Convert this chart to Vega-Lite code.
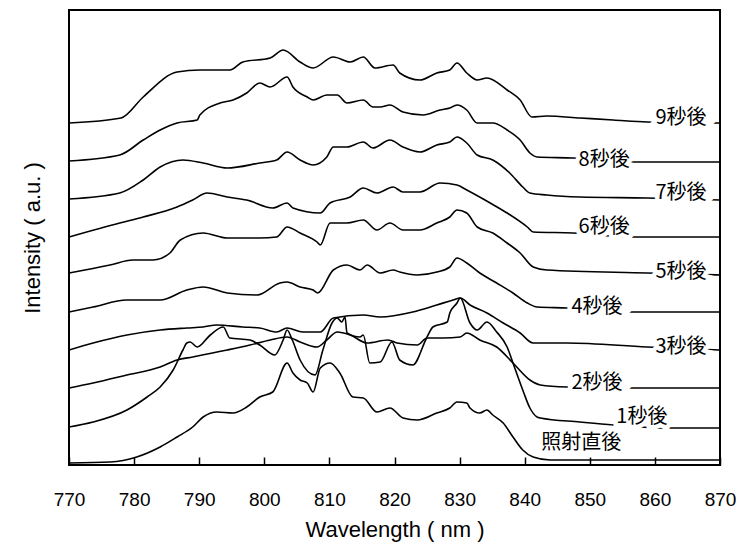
{
  "$schema": "https://vega.github.io/schema/vega-lite/v6.json",
  "width": 651,
  "height": 455,
  "autosize": {"type": "none"},
  "padding": {"left": 69, "top": 10, "right": 16, "bottom": 82},
  "background": "white",
  "datasets": {
    "spectra": [
      {"s":"9","wl":770,"v":342},{"s":"9","wl":778,"v":347},{"s":"9","wl":781.4,"v":368},{"s":"9","wl":786.6,"v":393},{"s":"9","wl":790.1,"v":395},{"s":"9","wl":794.7,"v":395},{"s":"9","wl":796.7,"v":403},{"s":"9","wl":800.9,"v":407},{"s":"9","wl":802.9,"v":415},{"s":"9","wl":805.5,"v":403},{"s":"9","wl":807.5,"v":397},{"s":"9","wl":810.6,"v":408},{"s":"9","wl":813.2,"v":403},{"s":"9","wl":815.2,"v":408},{"s":"9","wl":817,"v":397},{"s":"9","wl":819.8,"v":400},{"s":"9","wl":820.8,"v":392},{"s":"9","wl":823.9,"v":385},{"s":"9","wl":826.5,"v":392},{"s":"9","wl":828.5,"v":395},{"s":"9","wl":829.6,"v":402},{"s":"9","wl":831.1,"v":392},{"s":"9","wl":832.7,"v":385},{"s":"9","wl":834.2,"v":387},{"s":"9","wl":837.3,"v":375},{"s":"9","wl":839.3,"v":365},{"s":"9","wl":841.1,"v":348},{"s":"9","wl":843.4,"v":349},{"s":"9","wl":848.5,"v":347},{"s":"9","wl":853.6,"v":345},{"s":"9","wl":858.8,"v":343},{"s":"9","wl":870,"v":342},

      {"s":"8","wl":770,"v":304},{"s":"8","wl":777.8,"v":310},{"s":"8","wl":781.4,"v":325},{"s":"8","wl":784,"v":335},{"s":"8","wl":786.6,"v":342},{"s":"8","wl":789.7,"v":345},{"s":"8","wl":790.1,"v":350},{"s":"8","wl":793.2,"v":362},{"s":"8","wl":795.2,"v":365},{"s":"8","wl":797.3,"v":372},{"s":"8","wl":799.3,"v":382},{"s":"8","wl":800.9,"v":378},{"s":"8","wl":803.5,"v":388},{"s":"8","wl":804.4,"v":378},{"s":"8","wl":806.6,"v":368},{"s":"8","wl":807.5,"v":365},{"s":"8","wl":809.6,"v":370},{"s":"8","wl":811.2,"v":370},{"s":"8","wl":812.7,"v":362},{"s":"8","wl":815.2,"v":365},{"s":"8","wl":816.7,"v":358},{"s":"8","wl":817.8,"v":358},{"s":"8","wl":819.3,"v":360},{"s":"8","wl":821.3,"v":353},{"s":"8","wl":824.4,"v":350},{"s":"8","wl":827,"v":355},{"s":"8","wl":828.5,"v":357},{"s":"8","wl":829.6,"v":360},{"s":"8","wl":831.1,"v":355},{"s":"8","wl":832.7,"v":342},{"s":"8","wl":835.1,"v":342},{"s":"8","wl":837.3,"v":335},{"s":"8","wl":839.3,"v":325},{"s":"8","wl":840.8,"v":312},{"s":"8","wl":841.9,"v":308},{"s":"8","wl":847.4,"v":307},{"s":"8","wl":856.6,"v":303},{"s":"8","wl":870,"v":303},

      {"s":"7","wl":770,"v":266},{"s":"7","wl":777.8,"v":272},{"s":"7","wl":781.4,"v":285},{"s":"7","wl":784,"v":298},{"s":"7","wl":787.5,"v":305},{"s":"7","wl":790.6,"v":302},{"s":"7","wl":794.3,"v":297},{"s":"7","wl":799.3,"v":302},{"s":"7","wl":801.9,"v":305},{"s":"7","wl":803.5,"v":313},{"s":"7","wl":805.5,"v":305},{"s":"7","wl":807.5,"v":300},{"s":"7","wl":809.6,"v":308},{"s":"7","wl":810.6,"v":318},{"s":"7","wl":812.7,"v":318},{"s":"7","wl":815.2,"v":323},{"s":"7","wl":816.7,"v":317},{"s":"7","wl":819.3,"v":325},{"s":"7","wl":821.3,"v":318},{"s":"7","wl":823.9,"v":313},{"s":"7","wl":826.5,"v":320},{"s":"7","wl":828.5,"v":323},{"s":"7","wl":829.6,"v":328},{"s":"7","wl":831.1,"v":322},{"s":"7","wl":832.7,"v":310},{"s":"7","wl":835.1,"v":305},{"s":"7","wl":837.7,"v":292},{"s":"7","wl":839.7,"v":278},{"s":"7","wl":840.8,"v":272},{"s":"7","wl":843.4,"v":270},{"s":"7","wl":848.5,"v":268},{"s":"7","wl":858.8,"v":267},{"s":"7","wl":870,"v":265},

      {"s":"6","wl":770,"v":228},{"s":"6","wl":777.8,"v":242},{"s":"6","wl":781.4,"v":248},{"s":"6","wl":786.6,"v":258},{"s":"6","wl":789,"v":265},{"s":"6","wl":791.2,"v":272},{"s":"6","wl":794.3,"v":268},{"s":"6","wl":797.3,"v":265},{"s":"6","wl":801.3,"v":257},{"s":"6","wl":803.5,"v":262},{"s":"6","wl":804.4,"v":257},{"s":"6","wl":808.6,"v":252},{"s":"6","wl":810.1,"v":262},{"s":"6","wl":813.2,"v":268},{"s":"6","wl":815.2,"v":277},{"s":"6","wl":817.3,"v":272},{"s":"6","wl":819.8,"v":278},{"s":"6","wl":821.3,"v":273},{"s":"6","wl":823.9,"v":273},{"s":"6","wl":827,"v":282},{"s":"6","wl":829.6,"v":280},{"s":"6","wl":831.1,"v":275},{"s":"6","wl":834.7,"v":262},{"s":"6","wl":837.3,"v":252},{"s":"6","wl":840.4,"v":238},{"s":"6","wl":841.3,"v":233},{"s":"6","wl":847.4,"v":232},{"s":"6","wl":856.6,"v":228},{"s":"6","wl":870,"v":228},

      {"s":"5","wl":770,"v":192},{"s":"5","wl":776.3,"v":200},{"s":"5","wl":779.8,"v":205},{"s":"5","wl":782.9,"v":205},{"s":"5","wl":785.5,"v":212},{"s":"5","wl":787.1,"v":225},{"s":"5","wl":790.6,"v":232},{"s":"5","wl":794.3,"v":227},{"s":"5","wl":799.3,"v":227},{"s":"5","wl":801.9,"v":228},{"s":"5","wl":803.5,"v":238},{"s":"5","wl":805.5,"v":232},{"s":"5","wl":808.1,"v":223},{"s":"5","wl":808.6,"v":220},{"s":"5","wl":810.1,"v":242},{"s":"5","wl":812.7,"v":242},{"s":"5","wl":815.2,"v":245},{"s":"5","wl":817.3,"v":235},{"s":"5","wl":819.3,"v":242},{"s":"5","wl":821.3,"v":235},{"s":"5","wl":823.9,"v":235},{"s":"5","wl":826.5,"v":242},{"s":"5","wl":828.5,"v":248},{"s":"5","wl":829.6,"v":255},{"s":"5","wl":831.1,"v":252},{"s":"5","wl":832.7,"v":238},{"s":"5","wl":835.1,"v":232},{"s":"5","wl":837.3,"v":222},{"s":"5","wl":839.3,"v":212},{"s":"5","wl":841.3,"v":198},{"s":"5","wl":843.4,"v":195},{"s":"5","wl":858.8,"v":192},{"s":"5","wl":870,"v":190},

      {"s":"4","wl":770,"v":153},{"s":"4","wl":773.7,"v":158},{"s":"4","wl":778.9,"v":165},{"s":"4","wl":784,"v":165},{"s":"4","wl":788.1,"v":175},{"s":"4","wl":790.6,"v":178},{"s":"4","wl":794.3,"v":172},{"s":"4","wl":798.9,"v":170},{"s":"4","wl":802.4,"v":182},{"s":"4","wl":803.5,"v":183},{"s":"4","wl":805.5,"v":178},{"s":"4","wl":807.5,"v":175},{"s":"4","wl":808.2,"v":172},{"s":"4","wl":810.6,"v":195},{"s":"4","wl":812.7,"v":200},{"s":"4","wl":814.7,"v":195},{"s":"4","wl":815.8,"v":200},{"s":"4","wl":817.8,"v":192},{"s":"4","wl":819.8,"v":195},{"s":"4","wl":820.8,"v":193},{"s":"4","wl":823.5,"v":190},{"s":"4","wl":826.5,"v":193},{"s":"4","wl":828.5,"v":198},{"s":"4","wl":829.6,"v":207},{"s":"4","wl":831.1,"v":202},{"s":"4","wl":833.1,"v":192},{"s":"4","wl":835.7,"v":182},{"s":"4","wl":838.2,"v":172},{"s":"4","wl":840.4,"v":162},{"s":"4","wl":841.9,"v":158},{"s":"4","wl":846.5,"v":157},{"s":"4","wl":855.7,"v":153},{"s":"4","wl":870,"v":153},

      {"s":"3","wl":770,"v":115},{"s":"3","wl":773.7,"v":122},{"s":"3","wl":778.9,"v":130},{"s":"3","wl":784,"v":135},{"s":"3","wl":788.1,"v":137},{"s":"3","wl":790.6,"v":138},{"s":"3","wl":792.7,"v":140},{"s":"3","wl":796.7,"v":138},{"s":"3","wl":799.3,"v":137},{"s":"3","wl":801.9,"v":133},{"s":"3","wl":803.5,"v":137},{"s":"3","wl":805.9,"v":133},{"s":"3","wl":808.6,"v":133},{"s":"3","wl":810.6,"v":147},{"s":"3","wl":815.2,"v":150},{"s":"3","wl":817.8,"v":148},{"s":"3","wl":822.8,"v":153},{"s":"3","wl":826.5,"v":160},{"s":"3","wl":829,"v":165},{"s":"3","wl":830.1,"v":167},{"s":"3","wl":831.6,"v":160},{"s":"3","wl":834.2,"v":152},{"s":"3","wl":836.7,"v":142},{"s":"3","wl":839.3,"v":132},{"s":"3","wl":841.3,"v":122},{"s":"3","wl":846.5,"v":122},{"s":"3","wl":858.8,"v":118},{"s":"3","wl":870,"v":115},

      {"s":"2","wl":770,"v":77},{"s":"2","wl":773.7,"v":82},{"s":"2","wl":778.9,"v":90},{"s":"2","wl":784,"v":98},{"s":"2","wl":786.6,"v":105},{"s":"2","wl":789,"v":108},{"s":"2","wl":794.3,"v":115},{"s":"2","wl":797.8,"v":120},{"s":"2","wl":800.9,"v":125},{"s":"2","wl":803.5,"v":128},{"s":"2","wl":805.5,"v":123},{"s":"2","wl":808.1,"v":118},{"s":"2","wl":809.6,"v":125},{"s":"2","wl":811.2,"v":133},{"s":"2","wl":813.2,"v":130},{"s":"2","wl":815.8,"v":122},{"s":"2","wl":819,"v":125},{"s":"2","wl":820.4,"v":122},{"s":"2","wl":823.5,"v":120},{"s":"2","wl":825,"v":127},{"s":"2","wl":827.5,"v":127},{"s":"2","wl":830.1,"v":128},{"s":"2","wl":831.1,"v":132},{"s":"2","wl":833.1,"v":125},{"s":"2","wl":835.7,"v":118},{"s":"2","wl":838.2,"v":102},{"s":"2","wl":840.8,"v":85},{"s":"2","wl":842.4,"v":80},{"s":"2","wl":846.5,"v":78},{"s":"2","wl":855.7,"v":77},{"s":"2","wl":870,"v":77},

      {"s":"1","wl":770,"v":38},{"s":"1","wl":773.7,"v":43},{"s":"1","wl":778.9,"v":55},{"s":"1","wl":782,"v":68},{"s":"1","wl":784,"v":78},{"s":"1","wl":786,"v":95},{"s":"1","wl":787.5,"v":115},{"s":"1","wl":788.1,"v":122},{"s":"1","wl":788.6,"v":123},{"s":"1","wl":789.7,"v":118},{"s":"1","wl":791.7,"v":130},{"s":"1","wl":793.7,"v":138},{"s":"1","wl":794.7,"v":127},{"s":"1","wl":797.8,"v":125},{"s":"1","wl":799.3,"v":120},{"s":"1","wl":801.6,"v":110},{"s":"1","wl":802.9,"v":125},{"s":"1","wl":803.5,"v":135},{"s":"1","wl":804.3,"v":125},{"s":"1","wl":805.5,"v":105},{"s":"1","wl":807.8,"v":90},{"s":"1","wl":809,"v":115},{"s":"1","wl":810.4,"v":142},{"s":"1","wl":811.2,"v":147},{"s":"1","wl":811.9,"v":143},{"s":"1","wl":812.4,"v":148},{"s":"1","wl":812.7,"v":132},{"s":"1","wl":814.7,"v":128},{"s":"1","wl":815.2,"v":130},{"s":"1","wl":816.2,"v":102},{"s":"1","wl":817.8,"v":103},{"s":"1","wl":819.6,"v":123},{"s":"1","wl":820.8,"v":105},{"s":"1","wl":822.8,"v":100},{"s":"1","wl":825,"v":128},{"s":"1","wl":825.9,"v":138},{"s":"1","wl":828.1,"v":143},{"s":"1","wl":828.5,"v":152},{"s":"1","wl":829.6,"v":162},{"s":"1","wl":830.1,"v":167},{"s":"1","wl":831.6,"v":142},{"s":"1","wl":832.7,"v":135},{"s":"1","wl":834.2,"v":143},{"s":"1","wl":835.7,"v":133},{"s":"1","wl":837.3,"v":118},{"s":"1","wl":838.2,"v":102},{"s":"1","wl":839.7,"v":75},{"s":"1","wl":840.8,"v":57},{"s":"1","wl":841.9,"v":48},{"s":"1","wl":842.4,"v":47},{"s":"1","wl":848.5,"v":43},{"s":"1","wl":853.6,"v":40},{"s":"1","wl":862,"v":37},{"s":"1","wl":870,"v":37},

      {"s":"0","wl":770,"v":2},{"s":"0","wl":776.3,"v":3},{"s":"0","wl":780.4,"v":8},{"s":"0","wl":784,"v":18},{"s":"0","wl":786.6,"v":28},{"s":"0","wl":789,"v":38},{"s":"0","wl":790.6,"v":48},{"s":"0","wl":792.7,"v":53},{"s":"0","wl":795.2,"v":52},{"s":"0","wl":797.3,"v":58},{"s":"0","wl":799.3,"v":68},{"s":"0","wl":801.3,"v":73},{"s":"0","wl":803.5,"v":102},{"s":"0","wl":804.4,"v":92},{"s":"0","wl":805.5,"v":85},{"s":"0","wl":806.6,"v":82},{"s":"0","wl":807.5,"v":73},{"s":"0","wl":808.6,"v":97},{"s":"0","wl":810.1,"v":102},{"s":"0","wl":811.6,"v":92},{"s":"0","wl":813.6,"v":68},{"s":"0","wl":815.2,"v":67},{"s":"0","wl":817.3,"v":53},{"s":"0","wl":819.3,"v":57},{"s":"0","wl":821.3,"v":47},{"s":"0","wl":823.5,"v":45},{"s":"0","wl":826.5,"v":52},{"s":"0","wl":828.5,"v":57},{"s":"0","wl":829.6,"v":63},{"s":"0","wl":831.1,"v":62},{"s":"0","wl":831.6,"v":57},{"s":"0","wl":833.1,"v":52},{"s":"0","wl":834.2,"v":55},{"s":"0","wl":835.1,"v":50},{"s":"0","wl":836.7,"v":42},{"s":"0","wl":838.2,"v":28},{"s":"0","wl":839.7,"v":15},{"s":"0","wl":841.3,"v":8},{"s":"0","wl":843.9,"v":5},{"s":"0","wl":848.5,"v":5},{"s":"0","wl":858.8,"v":5},{"s":"0","wl":870,"v":5}
    ],
    "labels": [
      {"label":"9秒後","wl":864,"v":347},
      {"label":"8秒後","wl":852.2,"v":305},
      {"label":"7秒後","wl":864,"v":272},
      {"label":"6秒後","wl":852.2,"v":238},
      {"label":"5秒後","wl":864,"v":193},
      {"label":"4秒後","wl":851.1,"v":158},
      {"label":"3秒後","wl":864,"v":118},
      {"label":"2秒後","wl":851.1,"v":82},
      {"label":"1秒後","wl":858,"v":48},
      {"label":"照射直後","wl":848.7,"v":22}
    ]
  },
  "encoding": {
    "x": {
      "field": "wl", "type": "quantitative",
      "scale": {"domain": [770, 870], "nice": false, "zero": false},
      "axis": {
        "title": "Wavelength ( nm )",
        "values": [770,780,790,800,810,820,830,840,850,860,870],
        "format": "d",
        "offset": -8,
        "ticks": true, "tickSize": 8, "tickColor": "#000", "tickWidth": 1.5, "tickOpacity": 1,
        "domain": false, "grid": false,
        "labelFont": "Liberation Sans", "labelFontSize": 19, "labelColor": "#000",
        "labelPadding": 25, "labelFlush": false, "labelOverlap": false,
        "titleFont": "Liberation Sans", "titleFontSize": 22, "titleFontWeight": "normal",
        "titleColor": "#000", "titlePadding": 10, "zindex": 2
      }
    },
    "y": {
      "field": "v", "type": "quantitative",
      "scale": {"domain": [0, 455], "nice": false, "zero": false},
      "axis": {
        "title": "Intensity ( a.u. )",
        "ticks": false, "labels": false, "domain": false, "grid": false,
        "titleFont": "Liberation Sans", "titleFontSize": 22, "titleFontWeight": "normal",
        "titleColor": "#000", "titlePadding": 25
      }
    }
  },
  "layer": [
    {
      "data": {"name": "spectra"},
      "mark": {"type": "line", "color": "#000", "strokeWidth": 1.6, "clip": true, "interpolate": "monotone"},
      "encoding": {"detail": {"field": "s", "type": "nominal"}}
    },
    {
      "data": {"name": "labels"},
      "mark": {"type": "text", "font": "Noto Sans CJK JP", "fontSize": 20, "align": "center", "baseline": "middle", "fill": "white", "stroke": "white", "strokeWidth": 9},
      "encoding": {"text": {"field": "label"}}
    },
    {
      "data": {"name": "labels"},
      "mark": {"type": "text", "font": "Noto Sans CJK JP", "fontSize": 20, "align": "center", "baseline": "middle", "fill": "#000"},
      "encoding": {"text": {"field": "label"}}
    }
  ],
  "config": {
    "view": {"stroke": "#000", "strokeWidth": 2}
  }
}
